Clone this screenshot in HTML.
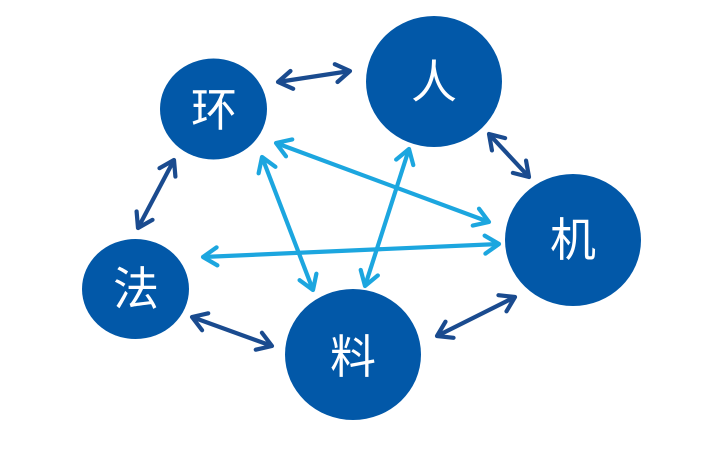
<!DOCTYPE html>
<html>
<head>
<meta charset="utf-8">
<style>
  html, body { margin: 0; padding: 0; background: #ffffff; }
  body { width: 724px; height: 455px; overflow: hidden; }
  svg { display: block; }
  text { font-family: "Liberation Sans", "Noto Sans CJK SC", sans-serif; font-size: 46px; fill: #ffffff; }
</style>
</head>
<body>
<svg width="724" height="455" viewBox="0 0 724 455" xmlns="http://www.w3.org/2000/svg">
  <defs>
    <marker id="md" markerUnits="userSpaceOnUse" markerWidth="40" markerHeight="40" refX="0" refY="0" viewBox="-20 -20 40 40" orient="auto-start-reverse" overflow="visible">
      <path d="M -14 -9 L 0 0 L -14 9" fill="none" stroke="#1a4b8f" stroke-width="4.2" stroke-linecap="round" stroke-linejoin="round"/>
    </marker>
    <marker id="ml" markerUnits="userSpaceOnUse" markerWidth="40" markerHeight="40" refX="0" refY="0" viewBox="-20 -20 40 40" orient="auto-start-reverse" overflow="visible">
      <path d="M -14 -9 L 0 0 L -14 9" fill="none" stroke="#1ca6df" stroke-width="4.2" stroke-linecap="round" stroke-linejoin="round"/>
    </marker>
  </defs>

  <!-- circles -->
  <ellipse cx="213.5" cy="109" rx="53.5" ry="50.5" fill="#0258a8"/>
  <ellipse cx="434" cy="81.5" rx="68" ry="65.5" fill="#0258a8"/>
  <ellipse cx="135.5" cy="289" rx="53.5" ry="50" fill="#0258a8"/>
  <ellipse cx="353" cy="354.5" rx="68" ry="65.5" fill="#0258a8"/>
  <ellipse cx="573" cy="240" rx="68" ry="66" fill="#0258a8"/>

  <!-- dark arrows -->
  <g stroke="#1a4b8f" stroke-width="4.2" fill="none" stroke-linecap="butt">
    <line x1="278" y1="82" x2="350" y2="71" marker-start="url(#md)" marker-end="url(#md)"/>
    <line x1="489" y1="134" x2="529" y2="177" marker-start="url(#md)" marker-end="url(#md)"/>
    <line x1="174" y1="160" x2="138" y2="228" marker-start="url(#md)" marker-end="url(#md)"/>
    <line x1="192" y1="317" x2="272" y2="346" marker-start="url(#md)" marker-end="url(#md)"/>
    <line x1="515" y1="297" x2="437" y2="336" marker-start="url(#md)" marker-end="url(#md)"/>
  </g>

  <!-- light arrows -->
  <g stroke="#1ca6df" stroke-width="4.2" fill="none" stroke-linecap="butt">
    <line x1="276" y1="143" x2="489" y2="222" marker-start="url(#ml)" marker-end="url(#ml)"/>
    <line x1="203" y1="257" x2="499" y2="244" marker-start="url(#ml)" marker-end="url(#ml)"/>
    <line x1="262" y1="157" x2="313" y2="290" marker-start="url(#ml)" marker-end="url(#ml)"/>
    <line x1="409" y1="149" x2="365" y2="286" marker-start="url(#ml)" marker-end="url(#ml)"/>
  </g>

  <!-- labels -->
  <text x="214" y="126" text-anchor="middle">环</text>
  <text x="434" y="98" text-anchor="middle">人</text>
  <text x="136" y="305" text-anchor="middle">法</text>
  <text x="353" y="373" text-anchor="middle">料</text>
  <text x="573" y="256" text-anchor="middle">机</text>
</svg>
</body>
</html>
